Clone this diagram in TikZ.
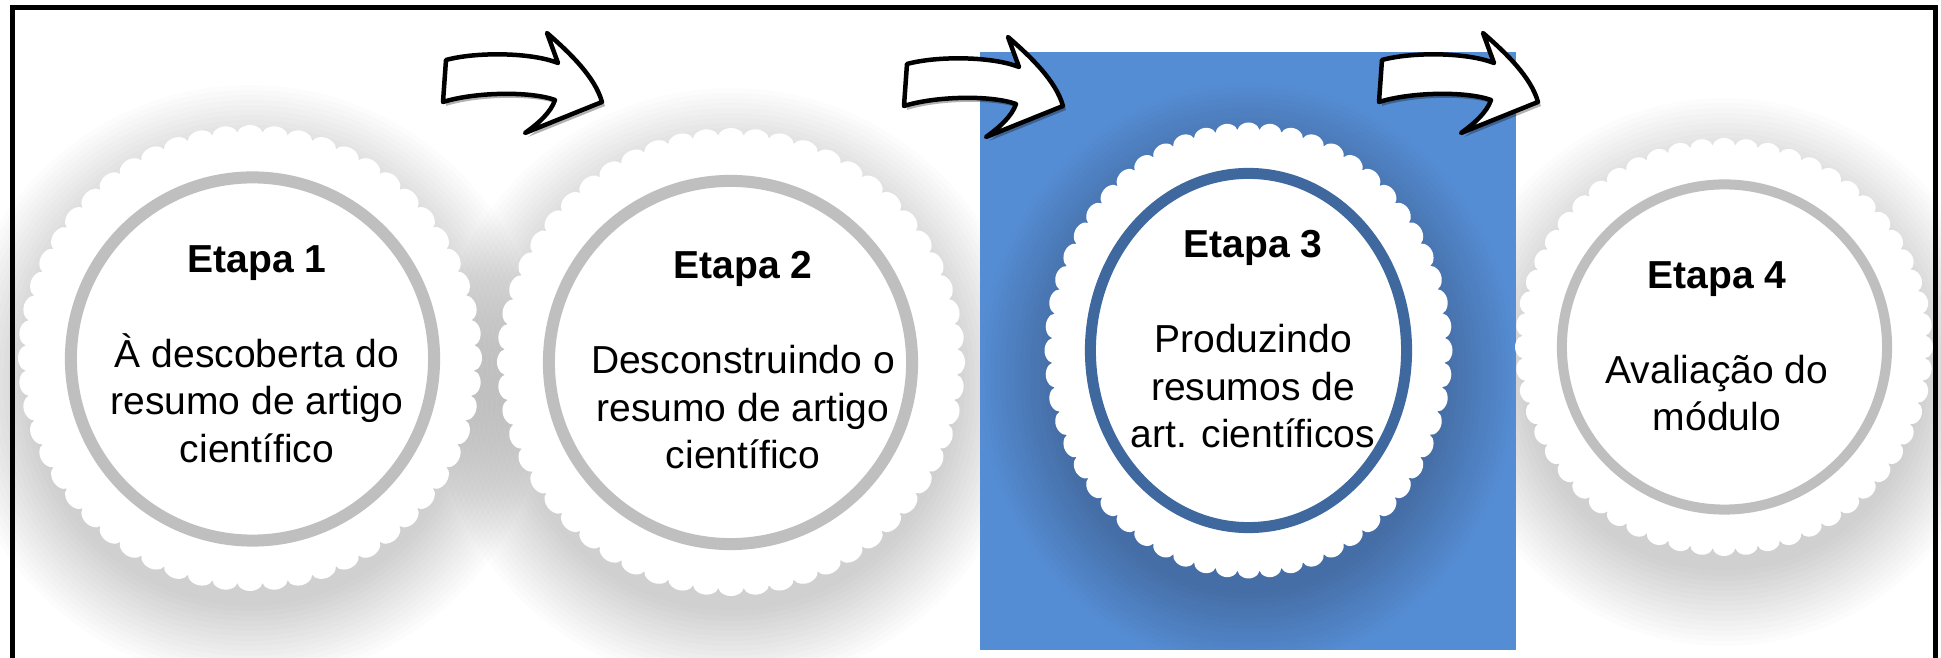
\documentclass[tikz,border=0pt]{standalone}
\usepackage{fontspec}
\setmainfont{Liberation Sans}
\usepackage{xcolor}
\usepackage{tikz}
\usetikzlibrary{positioning, calc, shapes.geometric}
\definecolor{ringGray}{RGB}{191,191,191}
\definecolor{stageBlue}{RGB}{85,141,212}
\definecolor{ringBlue}{RGB}{62,104,158}
\tikzset{
    ring/.style={
        circle,
        draw=ringGray,
        line width=0.12cm,
        inner sep=0pt
    },
    ringsel/.style={
        ellipse,
        draw=ringBlue,
        line width=0.11cm,
        inner sep=0pt
    },
    steptext/.style={
        anchor=north,
        align=center,
        inner sep=0pt,
        font=\fontsize{11.1pt}{13.5pt}\selectfont
    },
    bentarrow/.style={
        draw=black,
        fill=white,
        line width=0.045cm,
        line join=round,
        preaction={fill=black, opacity=0.3, transform canvas={xshift=0.03cm, yshift=-0.04cm}}
    },
    pics/glow/.style 2 args={code={
        \foreach \i in {1,...,16}
            \fill[black, opacity=0.012] (0,25) ellipse ({#1-15+5*\i} and {#2-15+5*\i});
    }},
    pics/stamp/.style 2 args={code={
        \fill[white] plot[domain=0:56, samples=673, variable=\t]
            ({(#1-8+8*sqrt(abs(cos(180*\t))))*cos(\t*6.428571)}, {(#2-8+8*sqrt(abs(cos(180*\t))))*sin(\t*6.428571)}) -- cycle;
    }},
    pics/bigarrow/.style={code={
        \draw[bentarrow] (3,0) .. controls (32,-8) and (87,-8) .. (115,3)
            -- (104,-27) .. controls (127,-7) and (152,17) .. (159,42)
            -- (82,73) .. controls (96,63) and (108,52) .. (112,40)
            .. controls (87,31) and (32,32) .. (0,42) -- cycle;
    }}
}

\begin{document}
\begin{tikzpicture}[x=0.01cm, y=-0.01cm]
    \useasboundingbox (0,0) rectangle (1941,658);
    \clip (0,0) rectangle (1941,658);

    % soft shadows
    \pic at (250,358) {glow={232}{233}};
    \pic at (731,362) {glow={234}{234}};
    \pic at (1724,347) {glow={209}{209}};

    % highlighted stage
    \fill[stageBlue] (980,52) rectangle (1516,650);
    \begin{scope}
        \clip (980,52) rectangle (1516,650);
        \pic at (1248.5,350.5) {glow={204}{228}};
    \end{scope}

    % stamp edges
    \pic at (250,358) {stamp={232}{233}};
    \pic at (731,362) {stamp={234}{234}};
    \pic at (1248.5,350.5) {stamp={204}{228}};
    \pic at (1724,347) {stamp={209}{209}};

    \node[ring, minimum size=3.63cm] (r1) at (252.5,359) {};
    \node[ring, minimum size=3.63cm] (r2) at (730.5,362.5) {};
    \node[ringsel, minimum width=3.16cm, minimum height=3.54cm] (r3) at (1248.5,350.5) {};
    \node[ring, line width=0.1cm, minimum size=3.25cm] (r4) at (1724.5,347) {};

    \node[steptext] (t1) at (257,245) {\textbf{Etapa 1}\\[13.5pt]À descoberta do\\resumo de artigo\\científico};
    \node[steptext] (t2) at (743,251) {\textbf{Etapa 2}\\[13.5pt]Desconstruindo o\\resumo de artigo\\científico};
    \node[steptext] (t3) at (1253,230) {\textbf{Etapa 3}\\[13.5pt]Produzindo\\resumos de\\art. científicos};
    \node[steptext] (t4) at (1717,261) {\textbf{Etapa 4}\\[13.5pt]Avaliação do\\módulo};

    \pic at (443,60) {bigarrow};
    \pic at (904,64) {bigarrow};
    \pic at (1379,60) {bigarrow};

    \draw[line width=0.05cm] (12.5,8) rectangle (1935.5,720);
\end{tikzpicture}
\end{document}
